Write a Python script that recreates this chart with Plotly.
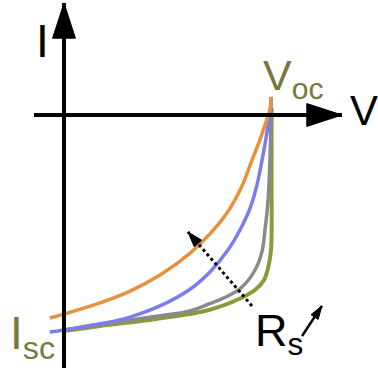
import plotly.graph_objects as go

# Normalised I-V curves: V in units of Voc, I in units of Isc (negative = below the V axis)
orange_v = [-0.068, 0.0, 0.174, 0.319, 0.464, 0.604, 0.705, 0.787, 0.860, 0.903, 0.942, 0.971, 0.990, 1.0, 1.0]
orange_i = [-0.944, -0.926, -0.874, -0.819, -0.744, -0.647, -0.553, -0.456, -0.330, -0.223, -0.126, -0.047, 0.009, 0.051, 0.084]

blue_v = [-0.068, 0.0, 0.174, 0.319, 0.464, 0.604, 0.705, 0.792, 0.850, 0.899, 0.932, 0.957, 0.976, 0.990, 1.0, 1.0]
blue_i = [-1.009, -1.0, -0.972, -0.940, -0.888, -0.814, -0.730, -0.628, -0.535, -0.433, -0.326, -0.209, -0.107, -0.023, 0.047, 0.084]

gray_v = [0.0, 0.174, 0.415, 0.604, 0.700, 0.792, 0.860, 0.923, 0.957, 0.971, 0.986, 0.995, 1.0, 1.0]
gray_i = [-1.0, -0.972, -0.940, -0.912, -0.879, -0.842, -0.800, -0.721, -0.633, -0.535, -0.395, -0.209, 0.0, 0.084]

olive_v = [0.0, 0.174, 0.415, 0.604, 0.700, 0.845, 0.928, 0.966, 0.986, 1.0, 1.003, 1.003, 1.003]
olive_i = [-1.005, -0.981, -0.953, -0.926, -0.907, -0.856, -0.809, -0.767, -0.712, -0.628, -0.535, -0.349, 0.03]

# Axis arrows (tail -> tip)
v_axis_v = [-0.145, 1.343]
v_axis_i = [0.0, 0.0]
i_axis_v = [0.0, 0.0]
i_axis_i = [-1.2, 0.521]

# Increasing series resistance arrow (dotted) and the small Rs arrow
rs_path_v = [0.908, 0.599]
rs_path_i = [-0.888, -0.544]
rs_small_v = [1.150, 1.246]
rs_small_i = [-1.028, -0.888]

ORANGE = "#e8913c"
BLUE = "#7c7cee"
GRAY = "#8a8a8a"
OLIVE = "#8c9a3c"
LABEL_OLIVE = "#78783e"
FONT = "Liberation Sans, Arial, sans-serif"

fig = go.Figure()

for v, i, c, w in [
    (olive_v, olive_i, OLIVE, 4),
    (gray_v, gray_i, GRAY, 3.5),
    (blue_v, blue_i, BLUE, 3.5),
    (orange_v, orange_i, ORANGE, 3.5),
]:
    fig.add_trace(go.Scatter(x=v, y=i, mode="lines",
                             line=dict(color=c, width=w, shape="spline", smoothing=1.0),
                             hoverinfo="skip", showlegend=False))

def arrow(xs, ys, width, head, dash="solid"):
    fig.add_trace(go.Scatter(x=xs, y=ys, mode="lines", line=dict(color="black", width=width, dash=dash),
                             hoverinfo="skip", showlegend=False))
    fig.add_trace(go.Scatter(x=xs, y=ys, mode="markers",
                             marker=dict(symbol="arrow", size=[0, head], angleref="previous",
                                         color="#000000", opacity=1,
                                         line=dict(width=1, color="#000000")),
                             opacity=1, hoverinfo="skip", showlegend=False))

arrow(v_axis_v, v_axis_i, 4, 37)
arrow(i_axis_v, i_axis_i, 4, 37)
arrow(rs_path_v, rs_path_i, 3, 16, dash="dot")
arrow(rs_small_v, rs_small_i, 2.5, 14)

def label(text, x, y, size, color, xanchor="center"):
    fig.add_annotation(x=x, y=y, text=text, showarrow=False, xanchor=xanchor, yanchor="middle",
                       font=dict(family=FONT, size=size, color=color))

label("I", -0.106, 0.344, 46, "black")
label("V", 1.449, 0.023, 42, "black")
label("V<sub>oc</sub>", 0.952, 0.172, 43, LABEL_OLIVE, xanchor="left")
label("I<sub>sc</sub>", -0.270, -1.028, 46, LABEL_OLIVE, xanchor="left")
label("R<sub>s</sub>", 0.913, -1.014, 45, "black", xanchor="left")

fig.update_layout(
    width=378, height=368,
    margin=dict(l=0, r=0, t=0, b=0),
    paper_bgcolor="white", plot_bgcolor="white",
    xaxis=dict(range=[-0.3092, 1.5169], visible=False, fixedrange=True),
    yaxis=dict(range=[-1.1767, 0.5349], visible=False, fixedrange=True),
    showlegend=False,
)

fig.write_html("out.html", config={"displayModeBar": False})
